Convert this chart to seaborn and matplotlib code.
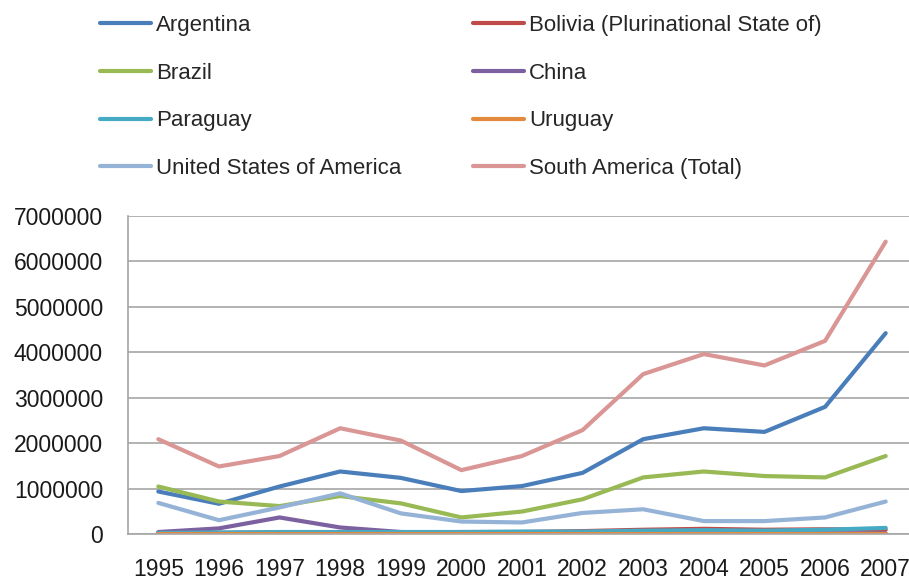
import matplotlib
matplotlib.use("Agg")
import matplotlib.pyplot as plt
import seaborn as sns
import pandas as pd
from matplotlib.lines import Line2D

years = [1995, 1996, 1997, 1998, 1999, 2000, 2001, 2002, 2003, 2004, 2005, 2006, 2007]

argentina = [940000, 670000, 1050000, 1380000, 1240000, 950000, 1060000, 1350000, 2090000, 2330000, 2250000, 2800000, 4420000]
bolivia = [20000, 30000, 40000, 40000, 40000, 50000, 50000, 70000, 100000, 120000, 100000, 110000, 100000]
brazil = [1050000, 720000, 620000, 840000, 680000, 370000, 500000, 770000, 1250000, 1380000, 1280000, 1250000, 1720000]
china = [50000, 130000, 370000, 150000, 50000, 30000, 20000, 20000, 20000, 20000, 20000, 20000, 20000]
paraguay = [30000, 40000, 50000, 50000, 50000, 50000, 60000, 60000, 80000, 90000, 80000, 100000, 140000]
uruguay = [10000, 10000, 10000, 10000, 10000, 10000, 10000, 10000, 10000, 10000, 10000, 10000, 10000]
usa = [690000, 310000, 590000, 900000, 460000, 280000, 260000, 470000, 550000, 290000, 290000, 370000, 720000]
south_america = [2090000, 1490000, 1720000, 2330000, 2060000, 1410000, 1720000, 2290000, 3520000, 3960000, 3710000, 4250000, 6430000]

series_names = ["Argentina", "Bolivia (Plurinational State of)", "Brazil", "China",
                "Paraguay", "Uruguay", "United States of America", "South America (Total)"]
series_values = [argentina, bolivia, brazil, china, paraguay, uruguay, usa, south_america]
colors = ["#4A7EBB", "#BE4B48", "#98B954", "#7D60A0", "#46AAC5", "#E38A3E", "#95B3D7", "#D99694"]

y_ticks = [0, 1000000, 2000000, 3000000, 4000000, 5000000, 6000000, 7000000]

rows = []
for name, vals in zip(series_names, series_values):
    for i, (yr, v) in enumerate(zip(years, vals)):
        rows.append({"series": name, "pos": i, "value": v})
df = pd.DataFrame(rows)

sns.set_theme(style="white")
plt.rcParams["font.family"] = ["Liberation Sans", "DejaVu Sans"]

fig = plt.figure(figsize=(9.09, 5.85), dpi=100)
ax = fig.add_axes([128 / 909, 50.7 / 585, 788 / 909, 318.6 / 585])

sns.lineplot(data=df, x="pos", y="value", hue="series", hue_order=series_names,
             palette=colors, linewidth=3, ax=ax, legend=False, sort=False)

ax.set_xlim(-0.5, len(years) - 0.5)
ax.set_ylim(0, 7000000)
ax.set_xticks(range(len(years)))
ax.set_xticklabels([str(y) for y in years])
ax.set_yticks(y_ticks)
ax.set_yticklabels([str(t) for t in y_ticks])
ax.set_xlabel("")
ax.set_ylabel("")
ax.grid(axis="y", color="#A6A6A6", linewidth=1.2)
ax.set_axisbelow(True)
for s in ["top", "right"]:
    ax.spines[s].set_visible(False)
for s in ["left", "bottom"]:
    ax.spines[s].set_color("#A6A6A6")
    ax.spines[s].set_linewidth(1.2)
ax.tick_params(axis="both", length=0, labelsize=16.5, colors="#1a1a1a")
ax.tick_params(axis="y", pad=18)
ax.tick_params(axis="x", pad=17)

handles = [Line2D([0], [0], color=c, lw=3, solid_capstyle="round") for c in colors]
col1 = [0, 2, 4, 6]
col2 = [1, 3, 5, 7]
common = dict(frameon=False, fontsize=16, handlelength=2.3, handletextpad=0.22,
              labelspacing=1.2, borderaxespad=0, borderpad=0, loc="upper left")
leg1 = fig.legend([handles[i] for i in col1], [series_names[i] for i in col1],
                  bbox_to_anchor=(100 / 909, 1 - 15 / 585), **common)
leg2 = fig.legend([handles[i] for i in col2], [series_names[i] for i in col2],
                  bbox_to_anchor=(473 / 909, 1 - 15 / 585), **common)

fig.savefig("out.png", dpi=100)
